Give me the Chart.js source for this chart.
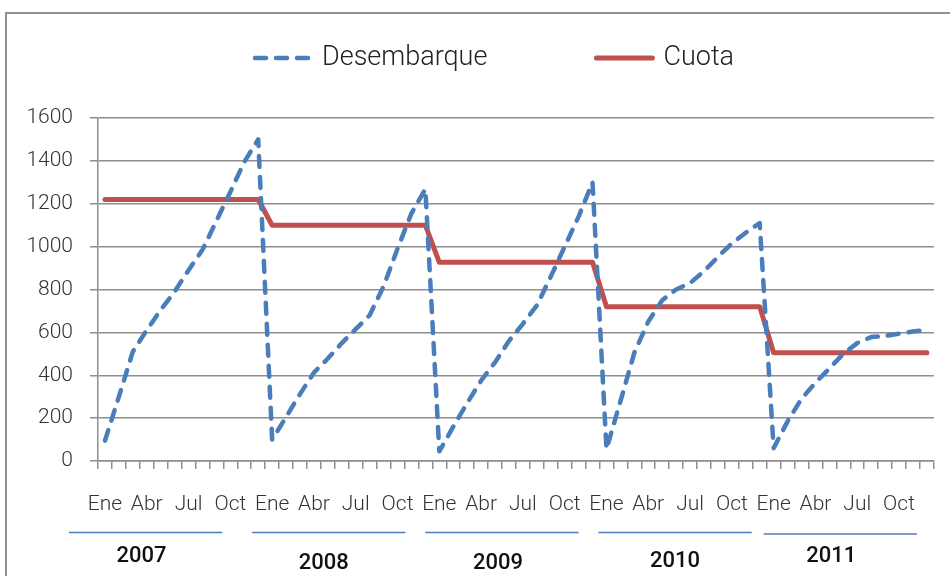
<!DOCTYPE html>
<html><head><meta charset="utf-8">
<script src="https://cdn.jsdelivr.net/npm/chart.js@4"></script>
<style>
html,body{margin:0;padding:0;background:#fff;}
#wrap{position:relative;width:950px;height:576px;overflow:hidden;}
#frame{position:absolute;left:5px;top:12px;width:1000px;height:1000px;border:2px solid #909090;box-sizing:border-box;}
canvas{position:absolute;left:0;top:0;}
</style></head><body>
<div id="wrap"><div id="frame"></div><canvas id="c" width="950" height="576"></canvas></div>
<script>
const years = ['2007', '2008', '2009', '2010', '2011'];
const monthNames = ['Ene', 'Feb', 'Mar', 'Abr', 'May', 'Jun', 'Jul', 'Ago', 'Sep', 'Oct', 'Nov', 'Dic'];
const categories = years.flatMap(() => monthNames);

const desembarque = [
  95, 300, 510, 610, 705, 790, 890, 985, 1120, 1255, 1395, 1500,
  100, 205, 312, 412, 478, 550, 615, 680, 815, 990, 1155, 1268,
  45, 160, 270, 375, 460, 560, 640, 725, 860, 1000, 1140, 1300,
  55, 278, 505, 650, 750, 800, 830, 885, 952, 1015, 1065, 1110,
  60, 185, 290, 365, 432, 500, 550, 578, 583, 594, 604, 612
];
const cuota = [
  1220, 1220, 1220, 1220, 1220, 1220, 1220, 1220, 1220, 1220, 1220, 1220,
  1100, 1100, 1100, 1100, 1100, 1100, 1100, 1100, 1100, 1100, 1100, 1100,
  927, 927, 927, 927, 927, 927, 927, 927, 927, 927, 927, 927,
  720, 720, 720, 720, 720, 720, 720, 720, 720, 720, 720, 720,
  505, 505, 505, 505, 505, 505, 505, 505, 505, 505, 505, 505
];
const yMin = 0, yMax = 1600, yStep = 200;

// layout of the hand-drawn year annotations (relative to each year's month span)
const yearLineShift = [-36, -20, -14, -8, -10];
const yearLineY = [532.5, 532.5, 532.5, 532.5, 534];
const yearTextShift = [-40, -25, -18, -8, -19];
const yearTextY = [556, 563, 563, 561, 556];

const BLUE = '#4a7ebb', RED = '#c0504d', GRID = '#8e8e8e';

const decor = {
  id: 'decor',
  afterDraw(chart) {
    const { ctx } = chart;
    const x = chart.scales.x;
    ctx.save();
    years.forEach((yr, k) => {
      const a = x.getPixelForValue(12 * k), b = x.getPixelForValue(12 * k + 11);
      ctx.strokeStyle = BLUE; ctx.lineWidth = 1.5; ctx.setLineDash([]);
      ctx.beginPath();
      ctx.moveTo(a + yearLineShift[k], yearLineY[k]);
      ctx.lineTo(b + yearLineShift[k], yearLineY[k]);
      ctx.stroke();
      ctx.fillStyle = '#111';
      ctx.font = '500 22px Roboto';
      ctx.textAlign = 'center'; ctx.textBaseline = 'middle';
      ctx.fillText(yr, (a + b) / 2 + yearTextShift[k], yearTextY[k]);
    });
    const ly = 58;
    let lx = 253;
    chart.data.datasets.forEach((d) => {
      ctx.strokeStyle = d.borderColor; ctx.lineWidth = d.borderWidth;
      ctx.lineCap = 'round';
      ctx.setLineDash(d.borderDash || []);
      ctx.beginPath(); ctx.moveTo(lx + 2, ly); ctx.lineTo(lx + 58, ly); ctx.stroke();
      ctx.setLineDash([]);
      ctx.fillStyle = '#222'; ctx.font = '300 27px Roboto';
      ctx.textAlign = 'left'; ctx.textBaseline = 'middle';
      ctx.fillText(d.label, lx + 69, ly);
      lx += 69 + ctx.measureText(d.label).width + 107;
    });
    ctx.restore();
  }
};

new Chart(document.getElementById('c'), {
  type: 'line',
  data: {
    labels: categories,
    datasets: [
      { label: 'Desembarque', data: desembarque, borderColor: BLUE, borderWidth: 4.5,
        borderDash: [11, 10], borderCapStyle: 'round', borderJoinStyle: 'round',
        pointRadius: 0, tension: 0, fill: false, order: 1 },
      { label: 'Cuota', data: cuota, borderColor: RED, borderWidth: 5,
        borderCapStyle: 'round', borderJoinStyle: 'round',
        pointRadius: 0, tension: 0, fill: false, order: 2 }
    ]
  },
  options: {
    responsive: false, animation: false, devicePixelRatio: 1,
    layout: { padding: { left: 0, right: 15, top: 118, bottom: 0 } },
    plugins: { legend: { display: false }, tooltip: { enabled: false } },
    scales: {
      x: {
        offset: true,
        grid: { offset: true, drawOnChartArea: false, drawTicks: true, tickLength: 8, color: GRID, lineWidth: 1.5 },
        border: { display: true, color: GRID, width: 1.5 },
        ticks: { autoSkip: false, maxRotation: 0, minRotation: 0, padding: 23, color: '#333',
                 font: { family: 'Roboto', size: 21, weight: '300' },
                 callback: (v, i) => (i % 3 === 0 ? categories[i] : '') },
        afterFit(s) { s.height = 115; }
      },
      y: {
        min: yMin, max: yMax,
        ticks: { stepSize: yStep, padding: 17, color: '#333', font: { family: 'Roboto', size: 21, weight: '300' },
                 callback: (v) => String(v) },
        grid: { color: GRID, lineWidth: 1.5, tickLength: 8 },
        border: { color: GRID, width: 1.5 },
        afterFit(s) { s.width = 98; }
      }
    }
  },
  plugins: [decor]
});
</script>
</body></html>
